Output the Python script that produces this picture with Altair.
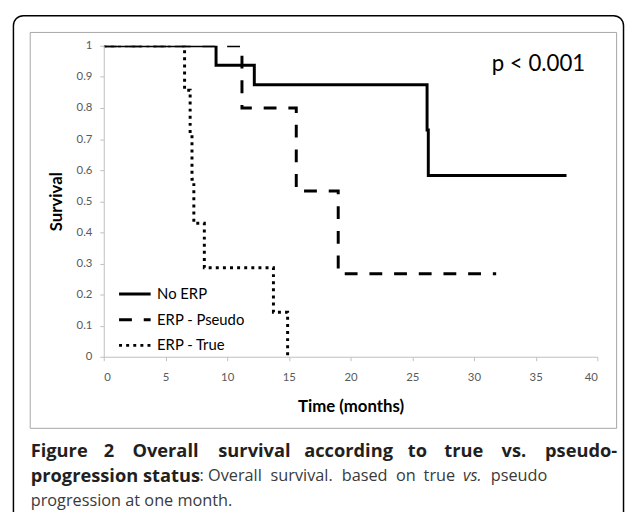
import altair as alt
import pandas as pd

# ---------------- data ----------------
series = ["No ERP", "ERP - Pseudo", "ERP - True"]

no_erp_time = [0, 9.1, 12.2, 26.2, 26.3, 37.5]
no_erp_surv = [1.0, 0.9375, 0.875, 0.729, 0.583, 0.583]

pseudo_time = [0, 11.2, 15.6, 19.0, 31.8]
pseudo_surv = [1.0, 0.8, 0.533, 0.267, 0.267]

true_time = [0, 6.55, 7.0, 7.15, 7.3, 8.15, 13.75, 14.9]
true_surv = [1.0, 0.857, 0.714, 0.571, 0.429, 0.286, 0.143, 0.0]

x_ticks = [0, 5, 10, 15, 20, 25, 30, 35, 40]
y_ticks = [0, 0.1, 0.2, 0.3, 0.4, 0.5, 0.6, 0.7, 0.8, 0.9, 1.0]

x_title = "Time (months)"
y_title = "Survival"
p_text = "p < 0.001"

caption1_words = ["Figure", "2", "Overall", "survival", "according", "to", "true", "vs.", "pseudo-"]
caption2_words = [": Overall", "survival.", "based", "on", "true", "vs.", "pseudo"]
caption2_bold = "progression status"
caption3 = "progression at one month."

# ---------------- layout (page pixels) ----------------
OX, OY = 105, 43          # plot origin on the page
W, H = 500, 315
cap1_x = [31, 105, 134, 221, 308, 413, 450, 508, 552]
cap2_x = [202, 274, 346, 401, 429, 469, 497]
cap2_italic = [False, False, False, False, False, True, False]
cap_y = [454, 479, 504]

rows = []
for name, ts, ss in [(series[0], no_erp_time, no_erp_surv),
                     (series[1], pseudo_time, pseudo_surv),
                     (series[2], true_time, true_surv)]:
    for t, s in zip(ts, ss):
        rows.append({"series": name, "time": t, "surv": s})
df = pd.DataFrame(rows)
one = pd.DataFrame({"k": [0]})

FONT = "Lato"
CAP_FONT = "Open Sans"
BOLD_SIZE = 18.5
NORM_SIZE = 16.5
BOLD_COL = "#231f20"
NORM_COL = "#3a3a3a"


def rx(px):
    return px - OX


def ry(py):
    return py - OY


outer = alt.Chart(one).mark_rect(fill="white", stroke="black", strokeWidth=1.5, cornerRadius=10).encode(
    x=alt.value(rx(13.5)), x2=alt.value(rx(631.5)), y=alt.value(ry(12.5)), y2=alt.value(ry(640))
)
inner = alt.Chart(one).mark_rect(fill="white", stroke="#a6a6a6", strokeWidth=1).encode(
    x=alt.value(rx(30.5)), x2=alt.value(rx(624.5)), y=alt.value(ry(29.5)), y2=alt.value(ry(430.5))
)

lines = alt.Chart(df).mark_line(color="black", strokeWidth=3, interpolate="step-after", clip=True).encode(
    x=alt.X("time:Q",
            scale=alt.Scale(domain=[0, 40], nice=False, zero=True),
            axis=alt.Axis(values=x_ticks, title=x_title, grid=False, zindex=1, domainColor="#bfbfbf",
                          tickColor="#bfbfbf", tickSize=4, labelPadding=11, labelFont=FONT,
                          labelFontSize=11.5, labelColor="#595959", titleFont=FONT, titleFontSize=17,
                          titleFontWeight="bold", titleColor="black", titleX=W / 2, titleY=50,
                          titleBaseline="middle", titleAlign="center")),
    y=alt.Y("surv:Q",
            scale=alt.Scale(domain=[0, 1], nice=False),
            axis=alt.Axis(values=y_ticks, format="~g", title=y_title, grid=False, zindex=1,
                          domainColor="#bfbfbf", tickColor="#bfbfbf", tickSize=4, labelPadding=8,
                          labelFont=FONT, labelFontSize=11.5, labelColor="#595959", titleFont=FONT,
                          titleFontSize=17, titleFontWeight="bold", titleColor="black", titleX=-48,
                          titleY=H / 2, titleAngle=270, titleBaseline="middle", titleAlign="center")),
    strokeDash=alt.StrokeDash("series:N",
                              scale=alt.Scale(domain=series, range=[[1, 0], [13, 12], [3, 4.2]]),
                              legend=alt.Legend(title=None, orient="none", legendX=14, legendY=234,
                                                symbolType="stroke", symbolSize=1024, symbolStrokeWidth=3,
                                                symbolStrokeColor="black", labelFont=FONT, labelFontSize=15,
                                                labelColor="black", labelOffset=5, rowPadding=-3.5)),
)

ptext = alt.Chart(one).mark_text(font=FONT, fontSize=22.5, color="black", align="left", baseline="middle").encode(
    x=alt.value(rx(498)), y=alt.value(ry(62)), text=alt.value(p_text)
)

layers = [outer, inner, lines, ptext]


def caption_text(txt, xp, yp, size, weight, style, color):
    return alt.Chart(one).mark_text(font=CAP_FONT, fontSize=size, fontWeight=weight, fontStyle=style,
                                    color=color, align="left", baseline="middle").encode(
        x=alt.value(rx(xp)), y=alt.value(ry(yp)), text=alt.value(txt))


for w, xp in zip(caption1_words, cap1_x):
    layers.append(caption_text(w, xp, cap_y[0], BOLD_SIZE, "bold", "normal", BOLD_COL))

layers.append(caption_text(caption2_bold, 31, cap_y[1], BOLD_SIZE, "bold", "normal", BOLD_COL))
for w, xp, it in zip(caption2_words, cap2_x, cap2_italic):
    layers.append(caption_text(w, xp, cap_y[1], NORM_SIZE, "normal", "italic" if it else "normal", NORM_COL))

layers.append(caption_text(caption3, 31, cap_y[2], NORM_SIZE, "normal", "normal", NORM_COL))

chart = alt.layer(*layers).properties(
    width=W, height=H,
    autosize=alt.AutoSizeParams(type="none"),
    padding={"left": OX - 8, "top": OY - 8, "right": 625 - (OX - 8) - W, "bottom": 504 - (OY - 8) - H},
    background="white",
).configure_view(strokeWidth=0)

chart.save("out.html", embed_options={"renderer": "svg", "actions": False})
